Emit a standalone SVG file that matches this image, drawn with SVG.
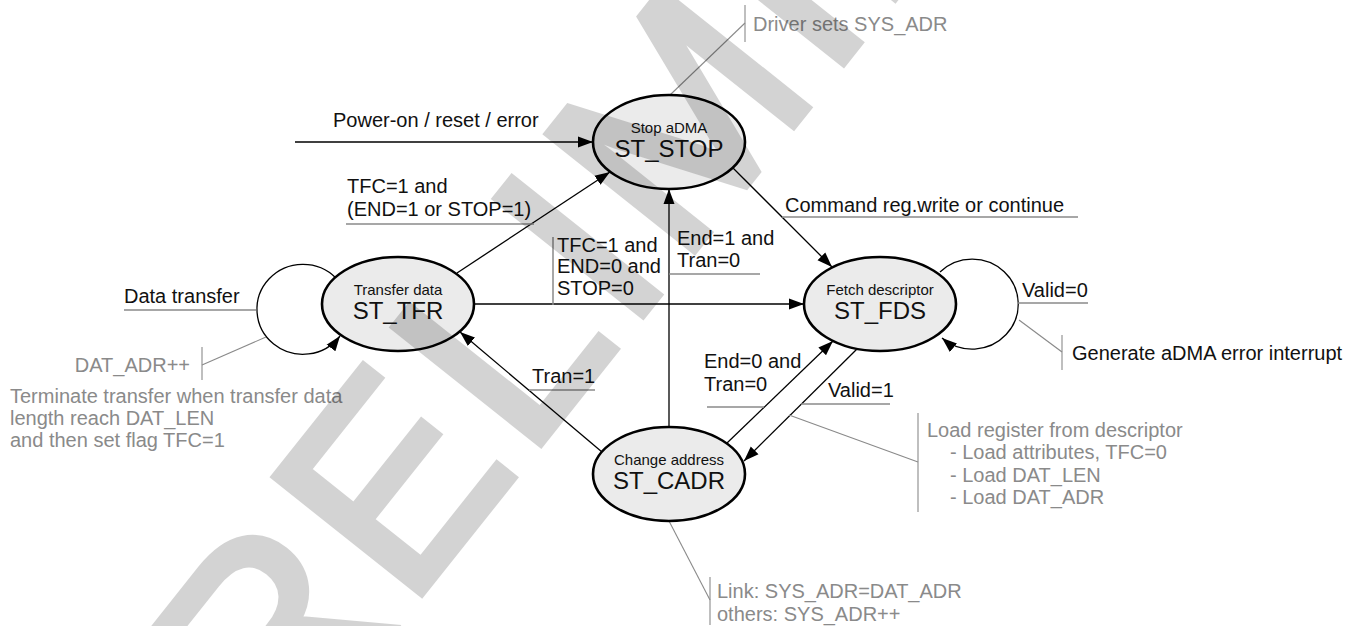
<svg xmlns="http://www.w3.org/2000/svg" width="1354" height="626" viewBox="0 0 1354 626">
<defs>
<marker id="ah" markerUnits="userSpaceOnUse" markerWidth="16" markerHeight="12" refX="15" refY="6" orient="auto">
<path d="M0,0.5 L15,6 L0,11.5 z" fill="#000"/>
</marker>
<style>
text{font-family:"Liberation Sans",Arial,sans-serif;}
.lbl{font-size:20px;fill:#111;}
.note{font-size:20px;fill:#8a8a8a;}
.small{font-size:15px;fill:#111;text-anchor:middle;}
.big{font-size:24px;fill:#111;text-anchor:middle;}
.node ellipse{fill:#ebebeb;stroke:#000;stroke-width:2.6;}
.edge{fill:none;stroke:#000;stroke-width:1.3;marker-end:url(#ah);}
.ul{stroke:#8a8a8a;stroke-width:1.5;fill:none;}
.ld{stroke:#8a8a8a;stroke-width:1.1;fill:none;}
</style>
</defs>
<rect width="1354" height="626" fill="#fff"/>

<g id="connectors">
<line class="edge" x1="295" y1="142" x2="593" y2="142"/>
<line class="edge" x1="457" y1="273" x2="610" y2="172"/>
<line class="edge" x1="733" y1="168" x2="832" y2="267"/>
<line class="edge" x1="474" y1="304" x2="804" y2="304"/>
<line class="edge" x1="669" y1="427" x2="669" y2="189"/>
<line class="edge" x1="602" y1="452" x2="460" y2="332"/>
<line class="edge" x1="727" y1="443" x2="833" y2="341"/>
<line class="edge" x1="857" y1="349" x2="744" y2="461"/>
<path class="edge" d="M336,278 A46 45 0 1 0 340,336"/>
<path class="edge" d="M940,272 A46 45 0 1 1 942,338"/>
</g>

<g id="labels-lines">
<line class="ul" x1="346" y1="224" x2="534" y2="224"/>
<line class="ul" x1="782" y1="217" x2="1078" y2="217"/>
<line class="ul" x1="669" y1="274" x2="760" y2="274"/>
<line class="ul" x1="553" y1="237" x2="553" y2="305"/>
<line class="ul" x1="124" y1="310" x2="256" y2="310"/>
<line class="ul" x1="1018" y1="303" x2="1088" y2="303"/>
<line class="ul" x1="529" y1="390" x2="595" y2="390"/>
<line class="ul" x1="707" y1="407" x2="764" y2="407"/>
<line class="ul" x1="801" y1="404" x2="890" y2="404"/>
<line class="ld" x1="670" y1="95" x2="745" y2="23"/>
<line class="ld" x1="745" y1="5" x2="745" y2="42"/>
<line class="ld" x1="266" y1="337" x2="202" y2="365"/>
<line class="ld" x1="202" y1="347" x2="202" y2="380"/>
<line class="ld" x1="1019" y1="320" x2="1062" y2="352"/>
<line class="ld" x1="1062" y1="335" x2="1062" y2="370"/>
<line class="ld" x1="789" y1="415" x2="918" y2="462"/>
<line class="ld" x1="918" y1="413" x2="918" y2="512"/>
<line class="ld" x1="669" y1="521" x2="710" y2="600"/>
<line class="ld" x1="710" y1="577" x2="710" y2="625"/>
</g>

<g id="node-stop" class="node">
<ellipse cx="669" cy="142" rx="76" ry="47"/>
<text class="small" x="669" y="133">Stop aDMA</text>
<text class="big" x="669" y="157">ST_STOP</text>
</g>
<g id="node-tfr" class="node">
<ellipse cx="398" cy="304" rx="76" ry="47"/>
<text class="small" x="398" y="295">Transfer data</text>
<text class="big" x="398" y="319">ST_TFR</text>
</g>
<g id="node-fds" class="node">
<ellipse cx="880" cy="304" rx="76" ry="47"/>
<text class="small" x="880" y="295">Fetch descriptor</text>
<text class="big" x="880" y="319">ST_FDS</text>
</g>
<g id="node-cadr" class="node">
<ellipse cx="669" cy="474" rx="76" ry="47"/>
<text class="small" x="669" y="465">Change address</text>
<text class="big" x="669" y="489">ST_CADR</text>
</g>

<g id="texts">
<text class="lbl" x="333" y="127">Power-on / reset / error</text>
<text class="note" x="753" y="31">Driver sets SYS_ADR</text>
<text class="lbl" x="347" y="193">TFC=1 and</text>
<text class="lbl" x="347" y="216">(END=1 or STOP=1)</text>
<text class="lbl" x="785" y="212">Command reg.write or continue</text>
<text class="lbl" x="557" y="252">TFC=1 and</text>
<text class="lbl" x="557" y="273">END=0 and</text>
<text class="lbl" x="557" y="295">STOP=0</text>
<text class="lbl" x="677" y="245">End=1 and</text>
<text class="lbl" x="677" y="267">Tran=0</text>
<text class="lbl" x="124" y="303">Data transfer</text>
<text class="lbl" x="1022" y="297">Valid=0</text>
<text class="note" x="190" y="372" text-anchor="end">DAT_ADR++</text>
<text class="note" x="10" y="403">Terminate transfer when transfer data</text>
<text class="note" x="10" y="425">length reach DAT_LEN</text>
<text class="note" x="10" y="447">and then set flag TFC=1</text>
<text class="lbl" x="1072" y="360">Generate aDMA error interrupt</text>
<text class="lbl" x="532" y="383">Tran=1</text>
<text class="lbl" x="704" y="368">End=0 and</text>
<text class="lbl" x="704" y="391">Tran=0</text>
<text class="lbl" x="828" y="397">Valid=1</text>
<text class="note" x="927" y="437">Load register from descriptor</text>
<text class="note" x="950" y="459">- Load attributes, TFC=0</text>
<text class="note" x="950" y="482">- Load DAT_LEN</text>
<text class="note" x="950" y="504">- Load DAT_ADR</text>
<text class="note" x="717" y="598">Link: SYS_ADR=DAT_ADR</text>
<text class="note" x="717" y="621">others: SYS_ADR++</text>
</g>

<g id="watermark" opacity="0.17">
<text x="160" y="922" transform="rotate(-51.5 160 922)" font-size="272" letter-spacing="10" fill="#000" stroke="#000" stroke-width="8">PRELIMINARY</text>
</g>
</svg>
